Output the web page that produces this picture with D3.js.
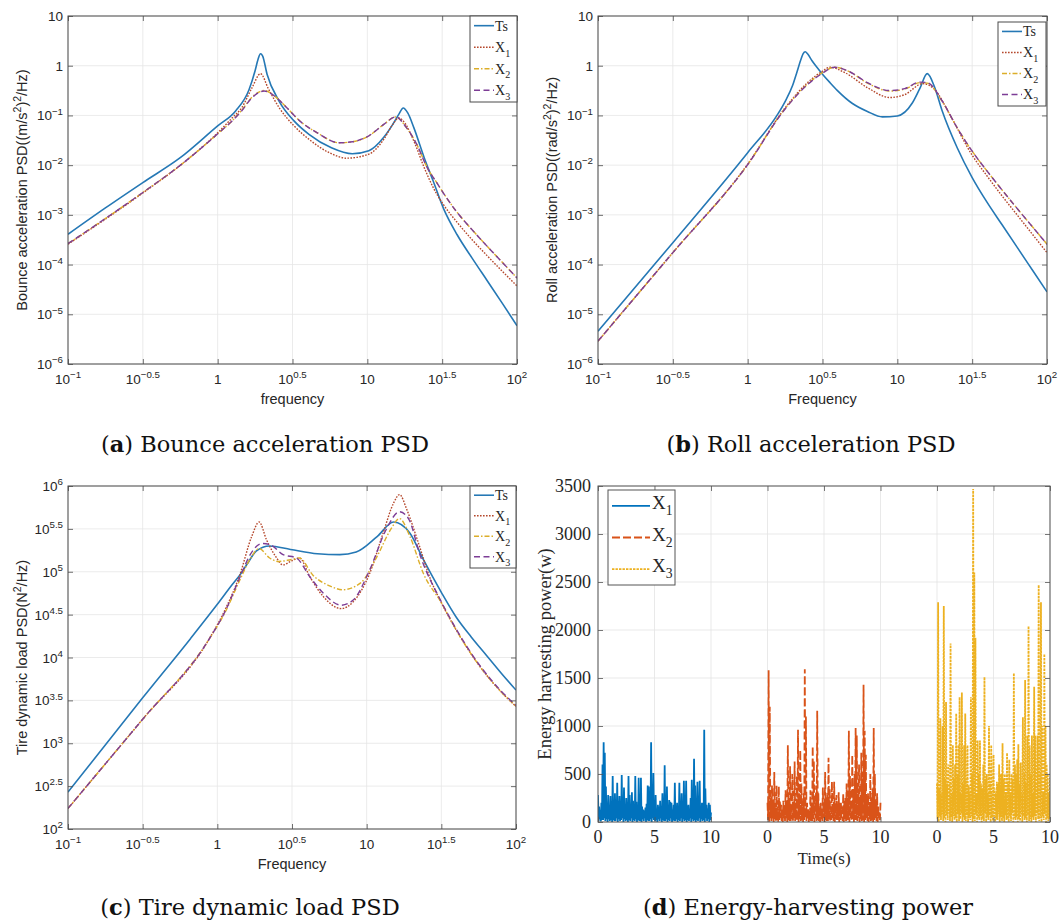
<!DOCTYPE html>
<html>
<head>
<meta charset="utf-8">
<script src="https://cdn.jsdelivr.net/npm/d3@7"></script>
<style>
  body { margin: 0; background: #fff; }
  text { font-family: "Liberation Sans", Arial, sans-serif; fill: #262626; }
</style>
</head>
<body>
<svg id="fig" width="1064" height="922"></svg>
<script>
// ---------- axis ticks ----------
const freqTickExp = [-1, -0.5, 0, 0.5, 1, 1.5, 2];
const accelTickExp = [-6, -5, -4, -3, -2, -1, 0, 1];
const tireTickExp = [2, 2.5, 3, 3.5, 4, 4.5, 5, 5.5, 6];
const powerTicks = [0, 500, 1000, 1500, 2000, 2500, 3000, 3500];
const timeTicks = [0, 5, 10, 15, 20, 25, 30, 35, 40];
const timeTickLabels = ["0", "5", "10", "0", "5", "10", "0", "5", "10"];

// ---------- PSD curves: [log10 frequency, log10 PSD] ----------
const bounceTs = [[-1,-3.39],[-0.75,-2.86],[-0.5,-2.35],[-0.25,-1.85],[0,-1.21],[0.12,-0.91],[0.21,-0.48],[0.25,-0.1],[0.27,0.13],[0.286,0.24],[0.3,0.2],[0.33,-0.17],[0.41,-0.71],[0.51,-1.11],[0.61,-1.38],[0.76,-1.65],[0.9,-1.77],[1.01,-1.71],[1.11,-1.44],[1.17,-1.18],[1.21,-0.98],[1.24,-0.85],[1.27,-0.95],[1.31,-1.24],[1.38,-1.85],[1.44,-2.32],[1.51,-2.88],[1.6,-3.4],[1.7,-3.87],[1.8,-4.32],[1.9,-4.77],[2,-5.23]];
const bounceX1 = [[-1,-3.59],[-0.5,-2.56],[-0.24,-1.98],[0,-1.35],[0.1,-1.04],[0.16,-0.85],[0.23,-0.44],[0.286,-0.16],[0.34,-0.47],[0.41,-0.84],[0.51,-1.21],[0.61,-1.48],[0.76,-1.77],[0.86,-1.86],[1.01,-1.78],[1.11,-1.48],[1.17,-1.18],[1.21,-1.05],[1.24,-1.11],[1.31,-1.51],[1.38,-2.05],[1.44,-2.45],[1.51,-2.8],[1.6,-3.15],[1.7,-3.5],[1.8,-3.82],[1.9,-4.13],[2,-4.43]];
const bounceX2 = [[-1,-3.58],[-0.5,-2.55],[-0.24,-1.98],[0,-1.37],[0.1,-1.1],[0.16,-0.9],[0.23,-0.63],[0.31,-0.5],[0.38,-0.61],[0.46,-0.84],[0.56,-1.14],[0.66,-1.34],[0.81,-1.55],[0.9,-1.53],[1.01,-1.41],[1.11,-1.18],[1.19,-1.03],[1.26,-1.24],[1.33,-1.58],[1.4,-2.05],[1.47,-2.38],[1.53,-2.66],[1.6,-2.95],[1.7,-3.3],[1.8,-3.63],[1.9,-3.95],[2,-4.27]];
const bounceX3 = [[-1,-3.58],[-0.5,-2.55],[-0.24,-1.98],[0,-1.37],[0.1,-1.1],[0.16,-0.91],[0.23,-0.64],[0.31,-0.51],[0.38,-0.61],[0.46,-0.84],[0.56,-1.14],[0.66,-1.34],[0.81,-1.55],[0.9,-1.53],[1.01,-1.41],[1.11,-1.18],[1.19,-1.03],[1.26,-1.24],[1.33,-1.58],[1.4,-2.05],[1.47,-2.38],[1.53,-2.66],[1.6,-2.95],[1.7,-3.3],[1.8,-3.63],[1.9,-3.95],[2,-4.27]];

const rollTs = [[-1,-5.34],[-0.5,-3.56],[0,-1.75],[0.2,-0.98],[0.25,-0.72],[0.3,-0.4],[0.33,-0.12],[0.355,0.12],[0.37,0.24],[0.385,0.28],[0.4,0.24],[0.43,0.1],[0.46,-0.02],[0.5,-0.17],[0.55,-0.34],[0.6,-0.5],[0.7,-0.76],[0.8,-0.92],[0.9,-1.03],[1.0,-1.01],[1.1,-0.75],[1.15,-0.46],[1.2,-0.16],[1.25,-0.44],[1.3,-0.91],[1.4,-1.65],[1.5,-2.25],[1.6,-2.75],[1.7,-3.2],[1.8,-3.65],[1.9,-4.1],[2,-4.55]];
const rollX1 = [[-1,-5.54],[-0.5,-3.76],[0,-1.98],[0.25,-0.85],[0.4,-0.34],[0.5,-0.11],[0.55,-0.03],[0.65,-0.14],[0.8,-0.44],[0.95,-0.64],[1.05,-0.58],[1.17,-0.36],[1.25,-0.48],[1.35,-0.98],[1.5,-1.8],[1.6,-2.22],[1.7,-2.62],[1.8,-3.0],[1.9,-3.38],[2,-3.76]];
const rollX2 = [[-1,-5.54],[-0.5,-3.76],[0,-1.99],[0.25,-0.86],[0.4,-0.37],[0.5,-0.14],[0.58,-0.03],[0.68,-0.12],[0.8,-0.35],[0.95,-0.51],[1.05,-0.47],[1.15,-0.34],[1.2,-0.35],[1.3,-0.72],[1.4,-1.25],[1.5,-1.72],[1.6,-2.12],[1.7,-2.5],[1.8,-2.87],[1.9,-3.23],[2,-3.59]];
const rollX3 = [[-1,-5.54],[-0.5,-3.76],[0,-1.99],[0.25,-0.87],[0.4,-0.38],[0.5,-0.15],[0.58,-0.03],[0.68,-0.12],[0.8,-0.34],[0.95,-0.5],[1.05,-0.46],[1.15,-0.33],[1.2,-0.34],[1.3,-0.71],[1.4,-1.25],[1.5,-1.72],[1.6,-2.12],[1.7,-2.5],[1.8,-2.87],[1.9,-3.23],[2,-3.59]];

const tireTs = [[-1,2.43],[-0.5,3.53],[-0.18,4.22],[0,4.62],[0.1,4.85],[0.15,4.96],[0.2,5.09],[0.26,5.24],[0.35,5.3],[0.49,5.26],[0.67,5.21],[0.82,5.2],[0.93,5.23],[1.07,5.41],[1.18,5.58],[1.29,5.45],[1.38,5.14],[1.5,4.76],[1.6,4.47],[1.7,4.24],[1.8,4.03],[1.9,3.82],[2,3.62]];
const tireX1 = [[-1,2.24],[-0.5,3.28],[-0.06,4.2],[0.05,4.55],[0.15,4.96],[0.23,5.41],[0.28,5.58],[0.33,5.37],[0.39,5.18],[0.44,5.08],[0.5,5.13],[0.55,5.16],[0.62,4.94],[0.71,4.71],[0.83,4.57],[0.91,4.65],[1.02,4.98],[1.11,5.45],[1.18,5.8],[1.22,5.9],[1.27,5.72],[1.34,5.37],[1.43,4.9],[1.5,4.64],[1.6,4.32],[1.7,4.04],[1.8,3.8],[1.9,3.6],[2,3.43]];
const tireX2 = [[-1,2.24],[-0.5,3.28],[-0.06,4.2],[0.05,4.52],[0.15,4.9],[0.22,5.15],[0.28,5.27],[0.35,5.16],[0.41,5.12],[0.49,5.14],[0.55,5.16],[0.64,4.96],[0.76,4.83],[0.84,4.79],[0.96,4.87],[1.07,5.18],[1.16,5.49],[1.22,5.62],[1.29,5.41],[1.38,4.98],[1.5,4.64],[1.6,4.32],[1.7,4.04],[1.8,3.8],[1.9,3.6],[2,3.43]];
const tireX3 = [[-1,2.24],[-0.5,3.28],[-0.06,4.2],[0.05,4.53],[0.15,4.93],[0.22,5.2],[0.3,5.33],[0.36,5.31],[0.44,5.2],[0.53,5.16],[0.62,4.94],[0.71,4.75],[0.83,4.61],[0.91,4.67],[1.02,5.02],[1.13,5.49],[1.22,5.7],[1.28,5.62],[1.36,5.18],[1.5,4.65],[1.6,4.33],[1.7,4.05],[1.8,3.81],[1.9,3.61],[2,3.44]];

// ---------- harvested power (W), sampled every 0.05 s over 10 s ----------
const timeStep = 0.05;
const segmentStart = [0, 15, 30];
const powerX1 = [280,10,160,30,120,5,200,20,600,20,830,40,720,10,370,30,190,0,280,30,140,10,270,20,160,0,480,20,150,10,300,10,130,40,410,0,220,30,270,10,150,20,490,40,200,0,360,30,140,10,250,20,190,0,480,20,280,10,120,40,310,0,220,20,160,10,480,30,210,0,140,20,460,10,170,10,460,0,160,30,130,10,120,40,150,0,190,20,380,10,370,10,220,30,830,0,340,40,510,20,200,10,280,20,130,0,180,30,160,10,220,40,120,0,300,20,190,10,590,10,160,30,370,0,140,20,230,10,210,40,200,0,130,20,180,10,410,10,160,30,200,0,160,20,410,10,150,40,300,0,140,30,430,10,180,20,430,0,160,20,180,10,130,40,250,0,440,30,220,10,660,20,380,0,160,20,420,10,150,40,430,0,140,30,200,10,190,20,960,0,350,40,180,10,140,30,200,0,180,20,100];
const powerX2 = [200,20,1580,0,1200,40,250,10,380,30,180,0,520,30,150,10,380,20,160,0,370,20,220,40,180,10,130,0,220,30,160,10,330,40,200,0,800,20,250,10,580,10,180,30,500,0,200,40,630,10,200,20,480,10,960,0,300,30,750,10,400,20,160,0,300,20,1590,40,1100,10,200,30,140,0,100,20,330,10,180,10,790,30,640,0,250,40,380,10,1160,20,300,10,160,0,200,30,140,10,360,40,200,0,520,20,250,10,300,10,670,30,350,0,160,20,420,40,180,10,420,0,190,30,280,10,140,20,310,0,200,20,200,40,130,10,300,0,220,30,250,10,400,10,250,20,950,0,480,40,220,10,700,30,300,0,500,20,980,20,900,10,350,40,600,0,200,30,720,10,450,20,1430,0,950,20,700,40,250,10,300,0,180,30,500,10,250,20,350,0,980,20,500,40,220,10,300,0,160,30,100,20,200];
const powerX3 = [400,30,2290,0,350,60,1080,20,300,80,1000,10,2250,40,450,0,1250,70,400,20,600,90,400,10,1860,50,300,0,800,60,450,20,600,40,1130,0,500,80,800,10,1300,30,300,90,1350,0,400,50,800,20,1130,10,450,70,800,0,380,40,300,20,1300,60,500,0,3470,30,2600,10,1920,80,300,0,850,40,500,20,850,60,400,0,350,30,600,10,1510,90,450,0,500,50,300,20,1000,70,400,0,800,40,300,10,700,60,350,0,300,30,420,20,400,80,600,0,500,50,500,10,820,40,450,0,500,70,300,20,720,30,400,0,650,60,300,10,500,90,450,0,1550,40,600,20,500,50,650,0,810,30,400,10,620,80,300,0,1090,60,500,20,1480,40,400,0,900,70,2040,10,800,30,500,0,900,50,300,20,1410,60,900,0,400,90,900,30,2470,10,500,40,2290,0,1000,60,300,20,1750,80,1000,0,600,40,500,10,300,30,460];

// ---------- colours and line styles ----------
const psdStyles = [
  { name: "Ts", sub: null, color: "#2578b5", width: 1.6, dash: null },
  { name: "X", sub: "1", color: "#b5482c", width: 1.4, dash: "1.6,1.4" },
  { name: "X", sub: "2", color: "#dcae2a", width: 1.4, dash: "5,2,1.5,2" },
  { name: "X", sub: "3", color: "#7d3d96", width: 1.4, dash: "6,3.5" }
];
const powerStyles = [
  { sub: "1", color: "#0072BD", width: 1.8, dash: null },
  { sub: "2", color: "#D95319", width: 1.8, dash: "8,3" },
  { sub: "3", color: "#EDB120", width: 1.8, dash: "2.4,1.1" }
];

const svg = d3.select("#fig");
const minus = s => String(s).replace("-", "\u2212");

// text with superscript / subscript runs: parts = [{t, sup}|{t, sub}]
function richText(text, parts, size) {
  let shift = 0;
  parts.forEach(p => {
    const ts = text.append("tspan").text(p.t);
    let target = 0;
    if (p.sup) { target = -0.42 * size; ts.attr("font-size", size * 0.72); }
    if (p.sub) { target = 0.32 * size; ts.attr("font-size", size * 0.72); }
    if (target !== shift) ts.attr("dy", target - shift);
    shift = target;
  });
}

function powerLabel(text, e, size, plainInts) {
  if (plainInts && e === 0) text.text("1");
  else if (plainInts && e === 1) text.text("10");
  else richText(text, [{ t: "10" }, { t: minus(e), sup: true }], size);
}

function frameAxes(g, x, y, box, xt, yt, stroke) {
  const k = 5;
  const defs = [
    [d3.axisBottom(x).tickValues(xt), `translate(0,${box.y1})`],
    [d3.axisTop(x).tickValues(xt), `translate(0,${box.y0})`],
    [d3.axisLeft(y).tickValues(yt), `translate(${box.x0},0)`],
    [d3.axisRight(y).tickValues(yt), `translate(${box.x1},0)`]
  ];
  defs.forEach(([ax, tr]) => {
    const a = g.append("g").attr("transform", tr)
      .call(ax.tickSize(-k).tickFormat(""));
    a.select(".domain").remove();
    a.selectAll("text").remove();
    a.selectAll("line").attr("stroke", stroke).attr("stroke-width", 0.8);
  });
  g.append("rect")
    .attr("x", box.x0).attr("y", box.y0)
    .attr("width", box.x1 - box.x0).attr("height", box.y1 - box.y0)
    .attr("fill", "none").attr("stroke", stroke).attr("stroke-width", 1);
}

function grid(g, x, y, box, xt, yt, color) {
  g.append("g").selectAll("line").data(xt).join("line")
    .attr("x1", d => x(d)).attr("x2", d => x(d))
    .attr("y1", box.y0).attr("y2", box.y1)
    .attr("stroke", color).attr("stroke-width", 0.8);
  g.append("g").selectAll("line").data(yt).join("line")
    .attr("y1", d => y(d)).attr("y2", d => y(d))
    .attr("x1", box.x0).attr("x2", box.x1)
    .attr("stroke", color).attr("stroke-width", 0.8);
}

function psdPanel(o) {
  const g = svg.append("g");
  const box = o.box;
  const x = d3.scaleLog().domain([0.1, 100]).range([box.x0, box.x1]);
  const yExp = o.yTickExp;
  const y = d3.scaleLog().domain([10 ** yExp[0], 10 ** yExp[yExp.length - 1]]).range([box.y1, box.y0]);
  const xt = freqTickExp.map(e => 10 ** e);
  const yt = yExp.map(e => 10 ** e);

  grid(g, x, y, box, xt, yt, "#e6e6e6");

  g.append("clipPath").attr("id", o.id).append("rect")
    .attr("x", box.x0).attr("y", box.y0)
    .attr("width", box.x1 - box.x0).attr("height", box.y1 - box.y0);

  const line = d3.line()
    .x(d => x(10 ** d[0])).y(d => y(10 ** d[1]))
    .curve(d3.curveMonotoneX);

  o.series.forEach((data, i) => {
    const st = psdStyles[i];
    g.append("path").attr("d", line(data))
      .attr("clip-path", `url(#${o.id})`)
      .attr("fill", "none").attr("stroke", st.color)
      .attr("stroke-width", st.width)
      .attr("stroke-dasharray", st.dash)
      .attr("stroke-linejoin", "round");
  });

  frameAxes(g, x, y, box, xt, yt, "#4a4a4a");

  const fs = 13.5;
  freqTickExp.forEach(e => {
    const t = g.append("text").attr("x", x(10 ** e)).attr("y", box.y1 + 20)
      .attr("text-anchor", "middle").attr("font-size", fs);
    powerLabel(t, e, fs, true);
  });
  yExp.forEach(e => {
    const t = g.append("text").attr("x", box.x0 - 5).attr("y", y(10 ** e) + 5)
      .attr("text-anchor", "end").attr("font-size", fs);
    powerLabel(t, e, fs, o.plainInts);
  });

  g.append("text").attr("x", (box.x0 + box.x1) / 2).attr("y", box.y1 + 40)
    .attr("text-anchor", "middle").attr("font-size", 14.5).text(o.xlabel);

  const yl = g.append("text")
    .attr("transform", `translate(${o.ylabelX},${(box.y0 + box.y1) / 2}) rotate(-90)`)
    .attr("text-anchor", "middle").attr("font-size", 14.5);
  richText(yl, o.ylabel, 14.5);

  // legend
  const L = o.legend;
  const lg = g.append("g");
  lg.append("rect").attr("x", L.x0).attr("y", L.y0)
    .attr("width", L.x1 - L.x0).attr("height", L.y1 - L.y0)
    .attr("fill", "#fff").attr("stroke", "#4a4a4a").attr("stroke-width", 1);
  const rowH = (L.y1 - L.y0) / 4;
  psdStyles.forEach((st, i) => {
    const ry = L.y0 + rowH * (i + 0.45);
    lg.append("line").attr("x1", L.x0 + 4).attr("x2", L.x0 + 24)
      .attr("y1", ry).attr("y2", ry)
      .attr("stroke", st.color).attr("stroke-width", st.width)
      .attr("stroke-dasharray", st.dash);
    const t = lg.append("text").attr("x", L.x0 + 25).attr("y", ry + 5)
      .attr("font-size", 14).style("font-family", "'Liberation Serif', 'Times New Roman', serif");
    const parts = [{ t: st.name }];
    if (st.sub) parts.push({ t: st.sub, sub: true });
    richText(t, parts, 14);
  });
}

function caption(x, y, letter, rest) {
  const t = svg.append("text").attr("x", x).attr("y", y)
    .attr("text-anchor", "middle").attr("font-size", 22.5)
    .style("font-family", "'DejaVu Serif', serif").style("fill", "#111");
  t.append("tspan").text("(");
  t.append("tspan").attr("font-weight", "bold").text(letter);
  t.append("tspan").text(") " + rest);
}

// (a) bounce acceleration
psdPanel({
  id: "clipA", box: { x0: 68, x1: 517, y0: 16, y1: 364 },
  yTickExp: accelTickExp, plainInts: true,
  series: [bounceTs, bounceX1, bounceX2, bounceX3],
  xlabel: "frequency", ylabelX: 27,
  ylabel: [{ t: "Bounce acceleration PSD((m/s" }, { t: "2", sup: true }, { t: ")" }, { t: "2", sup: true }, { t: "/Hz)" }],
  legend: { x0: 470, x1: 517, y0: 16, y1: 102 }
});

// (b) roll acceleration
psdPanel({
  id: "clipB", box: { x0: 598, x1: 1047, y0: 16, y1: 364 },
  yTickExp: accelTickExp, plainInts: true,
  series: [rollTs, rollX1, rollX2, rollX3],
  xlabel: "Frequency", ylabelX: 557,
  ylabel: [{ t: "Roll acceleration PSD((rad/s" }, { t: "2", sup: true }, { t: ")" }, { t: "2", sup: true }, { t: "/Hz)" }],
  legend: { x0: 998, x1: 1046, y0: 22, y1: 106 }
});

// (c) tire dynamic load
psdPanel({
  id: "clipC", box: { x0: 68, x1: 516, y0: 486, y1: 829 },
  yTickExp: tireTickExp, plainInts: false,
  series: [tireTs, tireX1, tireX2, tireX3],
  xlabel: "Frequency", ylabelX: 27,
  ylabel: [{ t: "Tire dynamic load PSD(N" }, { t: "2", sup: true }, { t: "/Hz)" }],
  legend: { x0: 470, x1: 516, y0: 486, y1: 568 }
});

// (d) energy-harvesting power
(function powerPanel() {
  const g = svg.append("g");
  const box = { x0: 598, x1: 1050, y0: 486, y1: 822 };
  const x = d3.scaleLinear().domain([0, 40]).range([box.x0, box.x1]);
  const y = d3.scaleLinear().domain([0, 3500]).range([box.y1, box.y0]);

  grid(g, x, y, box, timeTicks, powerTicks, "#e3e3e3");

  g.append("clipPath").attr("id", "clipD").append("rect")
    .attr("x", box.x0).attr("y", box.y0)
    .attr("width", box.x1 - box.x0).attr("height", box.y1 - box.y0);

  [powerX1, powerX2, powerX3].forEach((vals, i) => {
    const st = powerStyles[i];
    const line = d3.line()
      .x((d, j) => x(segmentStart[i] + j * timeStep))
      .y(d => y(d));
    g.append("path").attr("d", line(vals))
      .attr("clip-path", "url(#clipD)")
      .attr("fill", "none").attr("stroke", st.color)
      .attr("stroke-width", st.width)
      .attr("stroke-dasharray", st.dash)
      .attr("stroke-linejoin", "miter");
  });

  frameAxes(g, x, y, box, timeTicks, powerTicks, "#555");

  const serif = "'Liberation Serif', 'Times New Roman', serif";
  timeTicks.forEach((v, i) => {
    g.append("text").attr("x", x(v)).attr("y", box.y1 + 21)
      .attr("text-anchor", "middle").attr("font-size", 18)
      .style("font-family", serif).text(timeTickLabels[i]);
  });
  powerTicks.forEach(v => {
    g.append("text").attr("x", box.x0 - 7).attr("y", y(v) + 6)
      .attr("text-anchor", "end").attr("font-size", 18)
      .style("font-family", serif).text(v);
  });
  g.append("text").attr("x", (box.x0 + box.x1) / 2).attr("y", box.y1 + 42)
    .attr("text-anchor", "middle").attr("font-size", 17)
    .style("font-family", serif).text("Time(s)");
  g.append("text")
    .attr("transform", `translate(551,${(box.y0 + box.y1) / 2}) rotate(-90)`)
    .attr("text-anchor", "middle").attr("font-size", 18.5)
    .style("font-family", serif).text("Energy harvesting power(w)");

  const L = { x0: 608, x1: 675, y0: 490, y1: 585 };
  g.append("rect").attr("x", L.x0).attr("y", L.y0)
    .attr("width", L.x1 - L.x0).attr("height", L.y1 - L.y0)
    .attr("fill", "#fff").attr("stroke", "#555").attr("stroke-width", 1);
  const rowH = (L.y1 - L.y0) / 3;
  powerStyles.forEach((st, i) => {
    const ry = L.y0 + rowH * (i + 0.5);
    g.append("line").attr("x1", L.x0 + 4).attr("x2", L.x0 + 42)
      .attr("y1", ry).attr("y2", ry)
      .attr("stroke", st.color).attr("stroke-width", 1.8)
      .attr("stroke-dasharray", st.dash);
    const t = g.append("text").attr("x", L.x0 + 44).attr("y", ry + 3)
      .attr("font-size", 19).style("font-family", serif);
    richText(t, [{ t: "X" }, { t: st.sub, sub: true }], 19);
  });
})();

caption(265, 452, "a", "Bounce acceleration PSD");
caption(811, 452, "b", "Roll acceleration PSD");
caption(250, 915, "c", "Tire dynamic load PSD");
caption(808, 915, "d", "Energy-harvesting power");
</script>
</body>
</html>
